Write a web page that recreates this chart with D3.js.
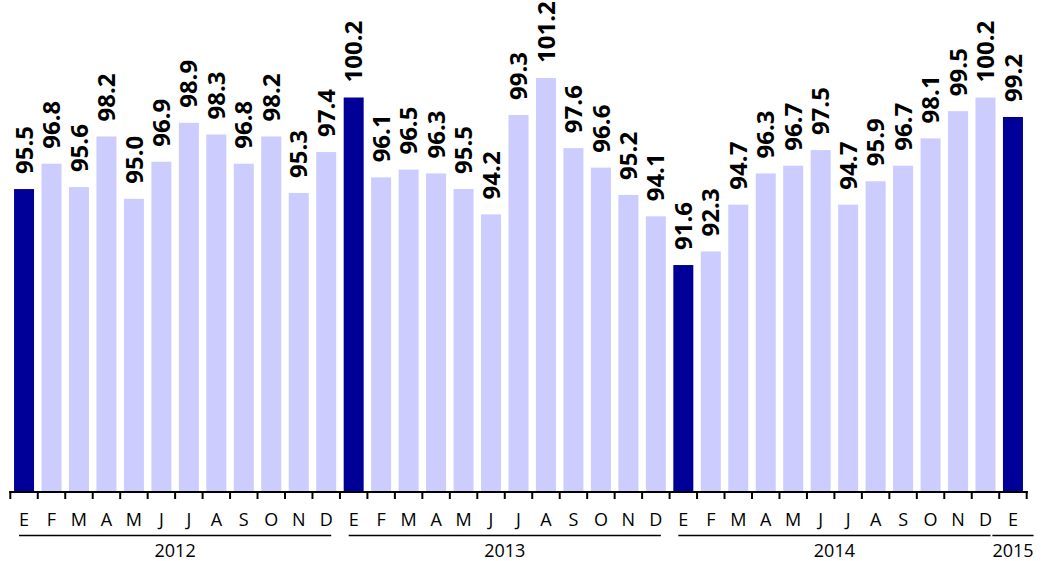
<!DOCTYPE html>
<html>
<head>
<meta charset="utf-8">
<script src="https://cdn.jsdelivr.net/npm/d3@7"></script>
<style>
  body { margin: 0; background: #fff; }
  svg { display: block; }
</style>
</head>
<body>
<div id="chart"></div>
<script>
// one bar per month, Jan 2012 .. Jan 2015
const months = ["E","F","M","A","M","J","J","A","S","O","N","D",
                "E","F","M","A","M","J","J","A","S","O","N","D",
                "E","F","M","A","M","J","J","A","S","O","N","D",
                "E"];
const values = [95.5, 96.8, 95.6, 98.2, 95.0, 96.9, 98.9, 98.3, 96.8, 98.2, 95.3, 97.4,
                100.2, 96.1, 96.5, 96.3, 95.5, 94.2, 99.3, 101.2, 97.6, 96.6, 95.2, 94.1,
                91.6, 92.3, 94.7, 96.3, 96.7, 97.5, 94.7, 95.9, 96.7, 98.1, 99.5, 100.2,
                99.2];
const years = ["2012", "2013", "2014", "2015"];
const yearStart = [0, 12, 24, 36];   // first bar index of each year
const yearLength = [12, 12, 12, 1];

var W = 1041, H = 561;
var svg = d3.select("#chart").append("svg")
    .attr("width", W)
    .attr("height", H);

var baseY = 491;

var x = d3.scaleBand()
    .domain(d3.range(values.length))
    .range([10.3, 1026.7])
    .paddingInner(0.272)
    .paddingOuter(0.136);

var y = d3.scaleLinear().domain([80, 105]).range([baseY, 4]);

var dark = "#000099", light = "#ccccff";

// bars (januaries are dark)
svg.selectAll(".bar")
  .data(values)
  .enter().append("rect")
    .attr("class", "bar")
    .attr("x", (d, i) => x(i))
    .attr("width", x.bandwidth())
    .attr("y", d => y(d))
    .attr("height", d => baseY - y(d))
    .attr("fill", (d, i) => months[i] == "E" ? dark : light);

// value labels, rotated
svg.selectAll(".val")
  .data(values)
  .enter().append("text")
    .attr("class", "val")
    .attr("transform", (d, i) => "translate(" + (x(i) + x.bandwidth() / 2) + "," + (y(d) - 15) + ") rotate(-90)")
    .attr("dy", "0.36em")
    .style("font-family", "'Open Sans', sans-serif")
    .style("font-weight", "700")
    .style("font-size", "24px")
    .style("fill", "#000")
    .text(d => d.toFixed(1));

// category axis with ticks between bars
var step = x.step();
var left = x(0) - x.paddingOuter() * step;
var axisG = svg.append("g");
axisG.append("line")
  .attr("x1", left - 1).attr("x2", left + step * values.length + 1)
  .attr("y1", baseY + 1).attr("y2", baseY + 1)
  .style("stroke", "#000").style("stroke-width", 2);

axisG.selectAll(".tick")
  .data(d3.range(values.length + 1))
  .enter().append("line")
    .attr("x1", i => left + i * step)
    .attr("x2", i => left + i * step)
    .attr("y1", baseY)
    .attr("y2", baseY + 8)
    .style("stroke", "#000").style("stroke-width", 2);

axisG.selectAll(".mon")
  .data(months)
  .enter().append("text")
    .attr("x", (d, i) => x(i) + x.bandwidth() / 2)
    .attr("y", 526)
    .attr("text-anchor", "middle")
    .style("font-family", "'Open Sans', sans-serif")
    .style("font-size", "18px")
    .style("fill", "#000")
    .text(d => d);

// year groups: underline + label
years.forEach(function(yr, k) {
  var first = x(yearStart[k]) + x.bandwidth() / 2;
  var last = x(yearStart[k] + yearLength[k] - 1) + x.bandwidth() / 2;
  var mid = (first + last) / 2;
  var txt = svg.append("text")
    .attr("x", mid)
    .attr("y", 557)
    .attr("text-anchor", "middle")
    .style("font-family", "'Open Sans', sans-serif")
    .style("font-size", "18px")
    .style("fill", "#000")
    .text(yr);
  var tw = txt.node().getComputedTextLength();
  var x1 = first - 5, x2 = last + 5;
  if (x2 - x1 < tw) { x1 = mid - tw / 2; x2 = mid + tw / 2; }
  svg.append("line")
    .attr("x1", x1).attr("x2", x2)
    .attr("y1", 535.5).attr("y2", 535.5)
    .style("stroke", "#000").style("stroke-width", 1.5);
});
</script>
</body>
</html>
